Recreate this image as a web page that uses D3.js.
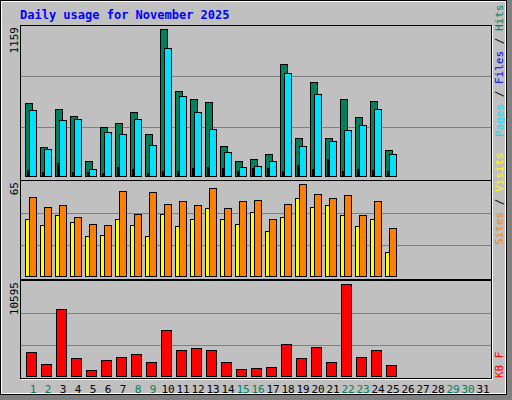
<!DOCTYPE html>
<html><head><meta charset="utf-8">
<script src="https://cdn.jsdelivr.net/npm/d3@7"></script>
<style>body{margin:0;background:#fff}svg{display:block}text{font-family:"DejaVu Sans Mono",monospace}</style>
</head><body><svg id="c" width="512" height="400"></svg>
<script>
var days = d3.range(1, 32);
var weekends = [1, 2, 8, 9, 15, 16, 22, 23, 29, 30];
var hits  = [575, 226, 526, 470, 116, 384, 415, 502, 329, 1159, 668, 605, 581, 234, 116, 132, 171, 881, 297, 739, 297, 605, 463, 589, 203];
var files = [518, 210, 439, 447, 53, 344, 329, 447, 242, 1007, 628, 502, 368, 187, 69, 76, 116, 810, 234, 644, 274, 360, 400, 526, 171];
var pages = [45, 29, 100, 29, 29, 21, 69, 53, 21, 37, 37, 61, 69, 61, 37, 61, 61, 37, 84, 53, 132, 37, 53, 45, 37];
var sites  = [40, 36, 43, 38, 28, 29, 40, 36, 28, 44, 35, 40, 48, 40, 37, 45, 32, 42, 55, 49, 50, 43, 35, 40, 17];
var visits = [56, 49, 50, 42, 37, 36, 60, 44, 59, 51, 53, 50, 62, 48, 53, 54, 40, 51, 65, 58, 55, 57, 43, 53, 34];
var kbytes = [2735, 1348, 7705, 2042, 655, 1811, 2158, 2504, 1580, 5278, 2967, 3198, 2967, 1580, 771, 886, 1002, 3660, 2042, 3313, 1580, 10595, 2158, 2967, 1233];

var svg = d3.select("#c");
// frame
svg.append("rect").attr("x", 0).attr("y", 0).attr("width", 512).attr("height", 400).attr("fill", "#808080");
svg.append("rect").attr("x", 0).attr("y", 0).attr("width", 507).attr("height", 395).attr("fill", "#fff");
svg.append("rect").attr("x", 2).attr("y", 2).attr("width", 503).attr("height", 391).attr("fill", "#C0C0C0");
svg.append("rect").attr("x", 0.5).attr("y", 0.5).attr("width", 506).attr("height", 394).attr("fill", "none").attr("stroke", "#000");

svg.append("text").attr("x", 20).attr("y", 19).attr("fill", "#0000FF").attr("font-size", 12).attr("font-weight", "bold")
  .text("Daily usage for November 2025");

var x = d3.scaleLinear().domain([1, 31]).range([25, 475]);

function panel(top, bottom, yTop, yBot, max) {
  svg.append("rect").attr("x", 20.5).attr("y", top + 0.5).attr("width", 471).attr("height", bottom - top)
    .attr("fill", "#C0C0C0").attr("stroke", "#000");
  svg.append("path").attr("d", "M21," + (bottom + 1.5) + "H492.5V" + (top + 1)).attr("fill", "none").attr("stroke", "#fff");
  var y = d3.scaleLinear().domain([0, max]).range([yBot, yTop]);
  [0.333, 0.68].forEach(function(f) {
    var yy = Math.round(y(max * f)) + 0.5;
    svg.append("line").attr("x1", 21).attr("x2", 491).attr("y1", yy).attr("y2", yy).attr("stroke", "#808080");
  });
  svg.append("text").attr("transform", "translate(18," + (top + 2) + ") rotate(-90)")
    .attr("text-anchor", "end").attr("font-size", 11).attr("font-family", "DejaVu Sans").text(max);
  return y;
}

function bars(data, y, dx, w, color) {
  svg.append("g").selectAll("rect").data(data).enter().append("rect")
    .attr("x", function(d, i) { return x(i + 1) + dx + 0.5; })
    .attr("y", function(d) { return Math.round(y(d)) + 0.5; })
    .attr("width", w)
    .attr("height", function(d) { return y(0) - Math.round(y(d)); })
    .attr("fill", color).attr("stroke", "#000");
}

var y1 = panel(25, 180, 29, 176, 1159);
bars(hits, y1, 0, 7, "#00805C");
bars(files, y1, 4, 7, "#00E0FF");
bars(pages, y1, 2, 1, "#0000FF");

var y2 = panel(180, 279, 184, 276, 65);
bars(sites, y2, 0, 7, "#FFFF00");
bars(visits, y2, 4, 7, "#FF8000");

var y3 = panel(280, 378, 284, 376, 10595);
bars(kbytes, y3, 1, 10, "#FF0000");

svg.append("g").selectAll("text").data(days).enter().append("text")
  .attr("x", function(d) { return x(d) + 8; }).attr("y", 393)
  .attr("text-anchor", "middle").attr("font-size", 11).attr("font-family", "DejaVu Sans")
  .attr("fill", function(d) { return weekends.indexOf(d) >= 0 ? "#00805C" : "#000"; })
  .text(function(d) { return d; });

function legend(yStart, parts) {
  var t = svg.append("text").attr("transform", "translate(503," + yStart + ") rotate(-90)").attr("font-size", 11);
  parts.forEach(function(p) { t.append("tspan").attr("fill", p[1]).text(p[0]); });
}
legend(137, [["Pages", "#00E0FF"], [" / ", "#000"], ["Files", "#0000FF"], [" / ", "#000"], ["Hits", "#00805C"]]);
legend(245, [["Sites", "#FF8000"], [" / ", "#000"], ["Visits", "#FFFF00"]]);
legend(378, [["KB F", "#FF0000"]]);
</script></body></html>
